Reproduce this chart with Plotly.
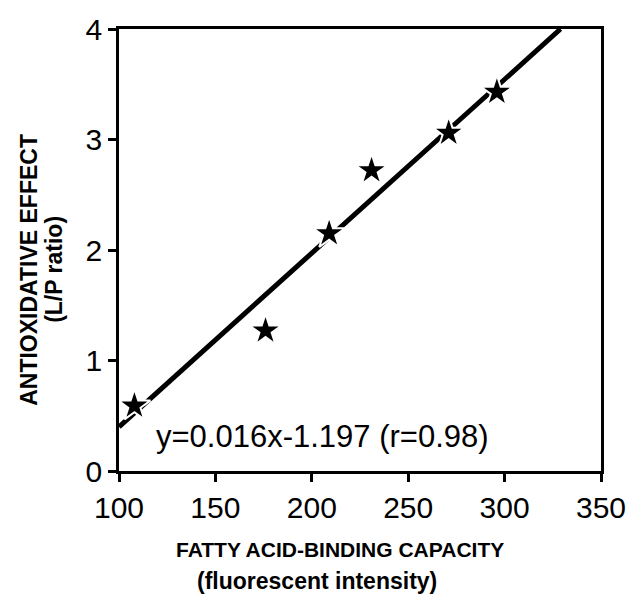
import plotly.graph_objects as go

# Data
binding_capacity = [108, 176, 209, 231, 271, 296]
lp_ratio = [0.59, 1.27, 2.15, 2.72, 3.06, 3.43]

# Regression line endpoints as drawn in the chart (y = 0.016x - 1.197)
fit_x = [100, 329]
fit_y = [0.40, 4.0]

x_ticks = [100, 150, 200, 250, 300, 350]
y_ticks = [0, 1, 2, 3, 4]

FONT = "Liberation Sans"

fig = go.Figure()
fig.add_trace(go.Scatter(x=fit_x, y=fit_y, mode="lines",
                         line=dict(color="black", width=5), showlegend=False))
fig.add_trace(go.Scatter(x=binding_capacity, y=lp_ratio, mode="markers",
                         marker=dict(symbol="star", size=24, color="black",
                                     line=dict(color="white", width=2)),
                         showlegend=False))

fig.update_layout(
    width=638, height=600,
    margin=dict(l=119, r=30, t=26, b=129),
    paper_bgcolor="white", plot_bgcolor="white",
    font=dict(family=FONT, color="black"),
    xaxis=dict(range=[100, 350], tickvals=x_ticks, showgrid=False, zeroline=False,
               showline=True, linecolor="black", linewidth=2.5, mirror=True,
               ticks="outside", ticklen=8, tickwidth=2.5, tickcolor="black",
               tickfont=dict(size=30, family=FONT)),
    yaxis=dict(range=[0, 4], tickvals=y_ticks, showgrid=False, zeroline=False,
               showline=True, linecolor="black", linewidth=2.5, mirror=True,
               ticks="outside", ticklen=8, tickwidth=2.5, tickcolor="black",
               tickfont=dict(size=30, family=FONT)),
    annotations=[
        dict(x=118, y=0.31, xref="x", yref="y", xanchor="left", yanchor="middle",
             text="y=0.016x-1.197 (r=0.98)", showarrow=False,
             font=dict(size=31, family=FONT)),
        dict(x=0.458, y=-0.178, xref="paper", yref="paper", xanchor="center", yanchor="middle",
             text="<b>FATTY ACID-BINDING CAPACITY</b>", showarrow=False,
             font=dict(size=21, family=FONT)),
        dict(x=0.411, y=-0.249, xref="paper", yref="paper", xanchor="center", yanchor="middle",
             text="<b>(fluorescent intensity)</b>", showarrow=False,
             font=dict(size=23, family=FONT)),
        dict(x=-0.186, y=0.456, xref="paper", yref="paper", xanchor="center", yanchor="middle",
             text="<b>ANTIOXIDATIVE EFFECT</b>", showarrow=False, textangle=-90,
             font=dict(size=23, family=FONT)),
        dict(x=-0.134, y=0.456, xref="paper", yref="paper", xanchor="center", yanchor="middle",
             text="<b>(L/P ratio)</b>", showarrow=False, textangle=-90,
             font=dict(size=23, family=FONT)),
    ],
)

fig.write_html("out.html")
